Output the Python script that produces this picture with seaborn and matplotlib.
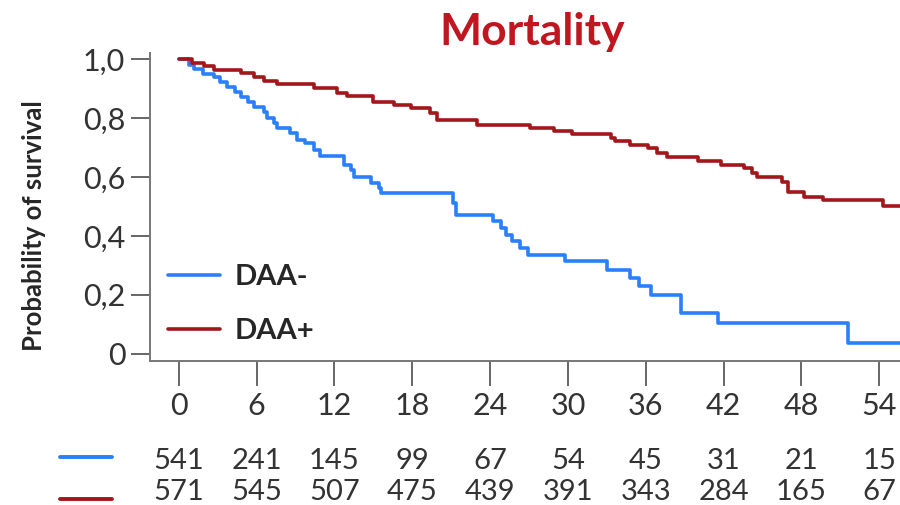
import matplotlib
matplotlib.use("Agg")
import matplotlib.pyplot as plt
import matplotlib.transforms as mtransforms
import pandas as pd
import seaborn as sns

# ---- data ----
t_neg = [0, 0.8, 1.2, 1.9, 2.7, 3.2, 3.75, 4.3, 4.8, 5.3, 5.8, 6.6, 6.8, 7.3, 7.6, 8.6, 9.1,
         9.7, 10.4, 10.9, 12.7, 13.3, 13.5, 14.8, 15.4, 15.6, 21.1, 21.4, 24.2, 24.8, 25.2,
         25.7, 26.3, 26.9, 29.8, 33.0, 34.8, 35.5, 36.4, 38.7, 41.6, 51.6, 55.6]
s_neg = [1.0, 0.98, 0.965, 0.95, 0.937, 0.923, 0.906, 0.889, 0.872, 0.855, 0.838, 0.821, 0.798,
         0.782, 0.765, 0.748, 0.725, 0.714, 0.69, 0.669, 0.641, 0.624, 0.601, 0.578, 0.561,
         0.545, 0.51, 0.471, 0.449, 0.426, 0.403, 0.381, 0.358, 0.336, 0.313, 0.285, 0.256,
         0.228, 0.2, 0.138, 0.104, 0.038, 0.038]

t_pos = [0, 1.05, 1.95, 2.7, 4.8, 5.8, 6.6, 7.6, 10.4, 12.2, 13.0, 15.0, 16.6, 17.9, 19.4,
         19.9, 23.0, 27.1, 28.9, 30.3, 33.3, 33.6, 34.8, 36.2, 36.9, 37.6, 40.0, 41.8, 43.6,
         44.2, 44.6, 46.5, 47.0, 48.2, 49.7, 54.3, 55.6]
s_pos = [1.0, 0.985, 0.976, 0.963, 0.951, 0.94, 0.925, 0.914, 0.9, 0.886, 0.875, 0.855, 0.844,
         0.833, 0.816, 0.793, 0.776, 0.765, 0.754, 0.745, 0.731, 0.72, 0.708, 0.697, 0.68,
         0.666, 0.655, 0.641, 0.629, 0.612, 0.599, 0.584, 0.55, 0.531, 0.52, 0.5, 0.5]

months = [0, 6, 12, 18, 24, 30, 36, 42, 48, 54]
risk_neg = [541, 241, 145, 99, 67, 54, 45, 31, 21, 15]
risk_pos = [571, 545, 507, 475, 439, 391, 343, 284, 165, 67]

colors = {"DAA-": "#2a7fff", "DAA+": "#a3161c"}

df = pd.concat([
    pd.DataFrame({"Month": t_neg, "Survival": s_neg, "Group": "DAA-"}),
    pd.DataFrame({"Month": t_pos, "Survival": s_pos, "Group": "DAA+"}),
])

sns.set_theme(style="white")
plt.rcParams["font.family"] = ["Lato", "DejaVu Sans"]

fig = plt.figure(figsize=(9, 5.05), dpi=100)
ax = fig.add_axes([0.167, 0.285, 0.833, 0.61])

sns.lineplot(data=df, x="Month", y="Survival", hue="Group", palette=colors,
             estimator=None, drawstyle="steps-post", linewidth=2.6, ax=ax)

ax.set_xlim(-2.2, 55.6)
ax.set_ylim(-0.025, 1.02)
ax.set_xticks(months)
ax.set_xticklabels([str(m) for m in months], fontsize=22, color="#333333")
ax.set_yticks([0, 0.2, 0.4, 0.6, 0.8, 1.0])
ax.set_yticklabels(["0", "0,2", "0,4", "0,6", "0,8", "1,0"], fontsize=22, color="#333333")
ax.tick_params(axis="both", direction="out", width=1.4, color="#666666",
               bottom=True, left=True)
ax.tick_params(axis="x", length=18, pad=4)
ax.tick_params(axis="y", length=14, pad=4)
for side in ["top", "right"]:
    ax.spines[side].set_visible(False)
for side in ["left", "bottom"]:
    ax.spines[side].set_color("#777777")
    ax.spines[side].set_linewidth(1.4)

ax.set_xlabel("")
ax.set_ylabel("Probability of survival", fontsize=18.5, fontweight="bold")
ax.yaxis.set_label_coords(-0.139, 0.44)
ax.set_title("Mortality", fontsize=32, fontweight="bold", color="#c0161f", pad=6, x=0.51)

leg = ax.legend(loc="lower left", bbox_to_anchor=(-0.012, -0.03), frameon=False,
                prop={"size": 21, "weight": "bold"}, handlelength=1.8,
                labelspacing=0.95, handletextpad=0.5)
for line in leg.get_lines():
    line.set_linewidth(2.6)

# number at risk table below the axis
trans = mtransforms.blended_transform_factory(ax.transData, fig.transFigure)
for vals, y in [(risk_neg, 0.087), (risk_pos, 0.025)]:
    for m, v in zip(months, vals):
        ax.text(m, y, str(v), transform=trans, ha="center", va="center",
                fontsize=21, color="#333333")
for g, y in [("DAA-", 0.095), ("DAA+", 0.012)]:
    fig.add_artist(plt.Line2D([0.067, 0.124], [y, y], color=colors[g], linewidth=2.8))

fig.savefig("out.png", dpi=100)
